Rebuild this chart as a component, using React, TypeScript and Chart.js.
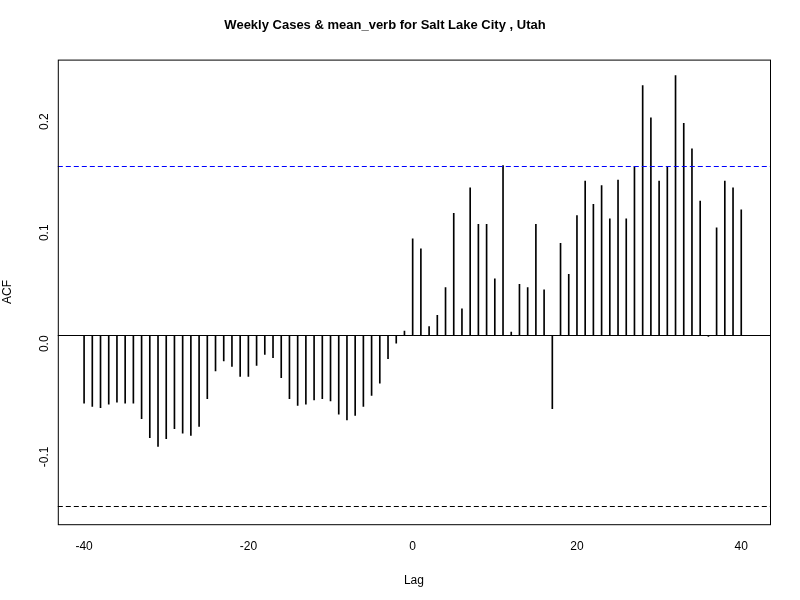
import { useEffect, useRef } from 'react'
import { Chart, registerables } from 'chart.js'

Chart.register(...registerables)

const lags: number[] = Array.from({ length: 81 }, (_, i) => i - 40)
const acf: number[] = [
  -0.061, -0.064, -0.065, -0.062, -0.060, -0.061, -0.061, -0.075, -0.092, -0.100,
  -0.093, -0.084, -0.088, -0.090, -0.082, -0.057, -0.032, -0.023, -0.028, -0.037,
  -0.037, -0.027, -0.017, -0.020, -0.038, -0.057, -0.063, -0.062, -0.058, -0.057,
  -0.059, -0.071, -0.076, -0.072, -0.064, -0.054, -0.043, -0.021, -0.007, 0.004,
  0.087, 0.078, 0.008, 0.018, 0.043, 0.110, 0.024, 0.133, 0.100, 0.100,
  0.051, 0.153, 0.003, 0.046, 0.043, 0.100, 0.041, -0.066, 0.083, 0.055,
  0.108, 0.139, 0.118, 0.135, 0.105, 0.140, 0.105, 0.152, 0.225, 0.196,
  0.139, 0.152, 0.234, 0.191, 0.168, 0.121, -0.001, 0.097, 0.139, 0.133,
  0.113,
]
const ciUpper = 0.153
const ciLower = -0.154
const yTicks = [-0.1, 0, 0.1, 0.2]
const xTicks = [-40, -20, 0, 20, 40]

const font = 'Arial, "Liberation Sans", sans-serif'

export default function App() {
  const canvasRef = useRef<HTMLCanvasElement>(null)

  useEffect(() => {
    if (!canvasRef.current) return
    // box round the plot, zero line and the two confidence lines
    const boxPlugin = {
      id: 'box',
      afterDatasetsDraw(chart: any) {
        const { ctx, chartArea: a, scales } = chart
        const hl = (v: number, color: string, dash: number[]) => {
          const y = Math.round(scales.y.getPixelForValue(v)) + 0.5
          ctx.beginPath()
          ctx.strokeStyle = color
          ctx.setLineDash(dash)
          ctx.moveTo(a.left, y)
          ctx.lineTo(a.right, y)
          ctx.stroke()
        }
        ctx.save()
        ctx.lineWidth = 1
        hl(0, '#000', [])
        hl(ciUpper, '#0000ff', [5, 3])
        hl(ciLower, '#000', [5, 3])
        ctx.setLineDash([])
        ctx.strokeStyle = '#000'
        ctx.strokeRect(a.left + 0.5, a.top + 0.5, a.right - a.left, a.bottom - a.top)
        ctx.restore()
      },
    }
    const chart = new Chart(canvasRef.current, {
      type: 'bar',
      data: {
        datasets: [
          {
            data: lags.map((l, i) => ({ x: l, y: acf[i] })),
            backgroundColor: '#000',
            barThickness: 1,
          },
        ],
      },
      options: {
        animation: false,
        responsive: false,
        layout: { padding: { top: 8, right: 30, left: 0, bottom: 0 } },
        plugins: {
          legend: { display: false },
          tooltip: { enabled: false },
          title: {
            display: true,
            text: 'Weekly Cases & mean_verb for Salt Lake City , Utah',
            font: { family: font, size: 13, weight: 'bold' },
            color: '#000',
            padding: { top: 10, bottom: 26 },
          },
        },
        scales: {
          x: {
            type: 'linear',
            offset: false,
            min: -43.2,
            max: 43.5,
            afterBuildTicks: (s: any) => {
              s.ticks = xTicks.map((v) => ({ value: v }))
            },
            grid: { display: false, drawTicks: true, tickLength: 7, tickColor: '#000' },
            border: { display: false },
            ticks: { color: '#000', font: { family: font, size: 12 }, padding: 8, maxRotation: 0 },
            title: {
              display: true,
              text: 'Lag',
              color: '#000',
              font: { family: font, size: 12 },
              padding: { top: 12, bottom: 12 },
            },
          },
          y: {
            min: -0.17,
            max: 0.2484,
            afterBuildTicks: (s: any) => {
              s.ticks = yTicks.map((v) => ({ value: v }))
            },
            grid: { display: false, drawTicks: true, tickLength: 7, tickColor: '#000' },
            border: { display: false },
            ticks: {
              color: '#000',
              font: { family: font, size: 12 },
              padding: 6,
              minRotation: 90,
              maxRotation: 90,
              callback: (v: any) => Number(v).toFixed(1),
            },
            title: {
              display: true,
              text: 'ACF',
              color: '#000',
              font: { family: font, size: 12 },
              padding: { top: 0, bottom: 10 },
            },
          },
        },
      } as any,
      plugins: [boxPlugin],
    })
    return () => chart.destroy()
  }, [])

  return (
    <div style={{ position: 'fixed', left: 0, top: 0, width: 800, height: 600, background: '#fff' }}>
      <canvas ref={canvasRef} width={800} height={600} />
    </div>
  )
}
